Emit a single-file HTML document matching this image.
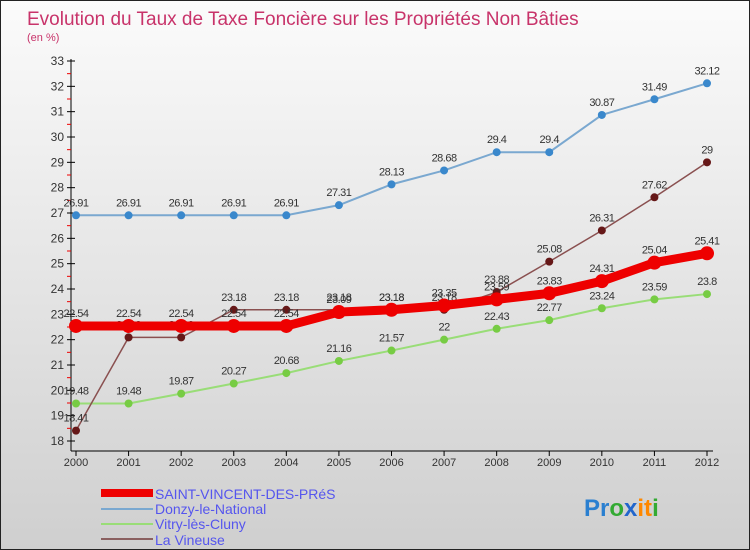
<!DOCTYPE html>
<html><head><meta charset="utf-8"><style>
body{margin:0}
#wrap{width:750px;height:550px;position:relative;box-sizing:border-box;border:1px solid #222;background:linear-gradient(#fbfbfb,#cfcfcf);font-family:"Liberation Sans",sans-serif;overflow:hidden}
svg text{font-family:"Liberation Sans",sans-serif}
</style></head><body>
<div id="wrap">
<svg id="svg" width="750" height="550">
<text x="26" y="24" font-size="19" fill="#c8336a">Evolution du Taux de Taxe Foncière sur les Propriétés Non Bâties</text>
<text x="26" y="40" font-size="11" fill="#c8336a">(en %)</text>
<g id="axes"></g><g id="series"></g>
<g>
<rect x="100" y="488" width="52" height="8" fill="#ee0000"/>
<text x="154" y="498" font-size="14" fill="#5555ee">SAINT-VINCENT-DES-PRéS</text>
<line x1="100" y1="508" x2="152" y2="508" stroke="#7aa8d0" stroke-width="2"/>
<text x="154" y="513" font-size="14" fill="#5555ee">Donzy-le-National</text>
<line x1="100" y1="523" x2="152" y2="523" stroke="#99dd77" stroke-width="2"/>
<text x="154" y="528" font-size="14" fill="#5555ee">Vitry-lès-Cluny</text>
<line x1="100" y1="538" x2="152" y2="538" stroke="#8a6060" stroke-width="2"/>
<text x="154" y="544" font-size="14" fill="#5555ee">La Vineuse</text>
</g>
<text x="583" y="515" font-size="24" font-weight="bold"><tspan fill="#2a7fd0">Pr</tspan><tspan fill="#33aa33">o</tspan><tspan fill="#2266cc">x</tspan><tspan fill="#ff8800">it</tspan><tspan fill="#33aa33">i</tspan></text>
</svg></div>
<script>
const years=[2000,2001,2002,2003,2004,2005,2006,2007,2008,2009,2010,2011,2012];
const saintVincent=[22.54,22.54,22.54,22.54,22.54,23.09,23.18,23.35,23.59,23.83,24.31,25.04,25.41];
const donzy=[26.91,26.91,26.91,26.91,26.91,27.31,28.13,28.68,29.4,29.4,30.87,31.49,32.12];
const vitry=[19.48,19.48,19.87,20.27,20.68,21.16,21.57,22,22.43,22.77,23.24,23.59,23.8];
const vineuse=[18.41,22.09,22.09,23.18,23.18,23.18,23.18,23.18,23.88,25.08,26.31,27.62,29];
const yTicks=[18,19,20,21,22,23,24,25,26,27,28,29,30,31,32,33];
const NS="http://www.w3.org/2000/svg";
const xS=i=>75+i*(706-75)/12;
const yS=v=>440-(v-18)*(380/15);
function mk(tag,attrs,parent,name){const e=document.createElementNS(NS,tag);for(const k in attrs)e.setAttribute(k,attrs[k]);


parent.appendChild(e);return e;}
const ax=document.getElementById('axes'),sg=document.getElementById('series');
mk('line',{x1:70,y1:58,x2:70,y2:450,stroke:'#000'},ax,'y-axis');
mk('line',{x1:70,y1:450,x2:712,y2:450,stroke:'#000'},ax,'x-axis');
yTicks.forEach(t=>{const y=yS(t);
mk('line',{x1:66,y1:y,x2:74,y2:y,stroke:'#000'},ax,'y-tick');
if(t<33)mk('line',{x1:66,y1:y-12.67,x2:70,y2:y-12.67,stroke:'#e00'},ax,'y-minor-tick');
const tx=mk('text',{x:63,y:y+4,'font-size':12,fill:'#333','text-anchor':'end'},ax,'y-tick-label');tx.textContent=t;});
years.forEach((yr,i)=>{const x=xS(i);
mk('line',{x1:x,y1:450,x2:x,y2:455,stroke:'#000'},ax,'x-tick');
const tx=mk('text',{x:x,y:465,'font-size':11,fill:'#333','text-anchor':'middle'},ax,'x-tick-label');tx.textContent=yr;});
function series(data,color,dot,lw,r,name){
mk('polyline',{points:data.map((v,i)=>xS(i)+','+yS(v)).join(' '),fill:'none',stroke:color,'stroke-width':lw},sg,name+'-line');
data.forEach((v,i)=>{mk('circle',{cx:xS(i),cy:yS(v),r:r,fill:dot},sg,name+'-point');
const t=mk('text',{x:xS(i),y:yS(v)-9,'font-size':11,fill:'#333','text-anchor':'middle','letter-spacing':'-0.5'},sg,name+'-value');t.textContent=v;});}
series(vitry,'#99dd77','#77cc44',2,4,'vitry');
series(donzy,'#7aa8d0','#3a88cc',2,4,'donzy');
series(vineuse,'#8a5050','#661818',1.5,4,'vineuse');
series(saintVincent,'#ee0000','#ee0000',9,7,'saint-vincent');
</script>
</body></html>
